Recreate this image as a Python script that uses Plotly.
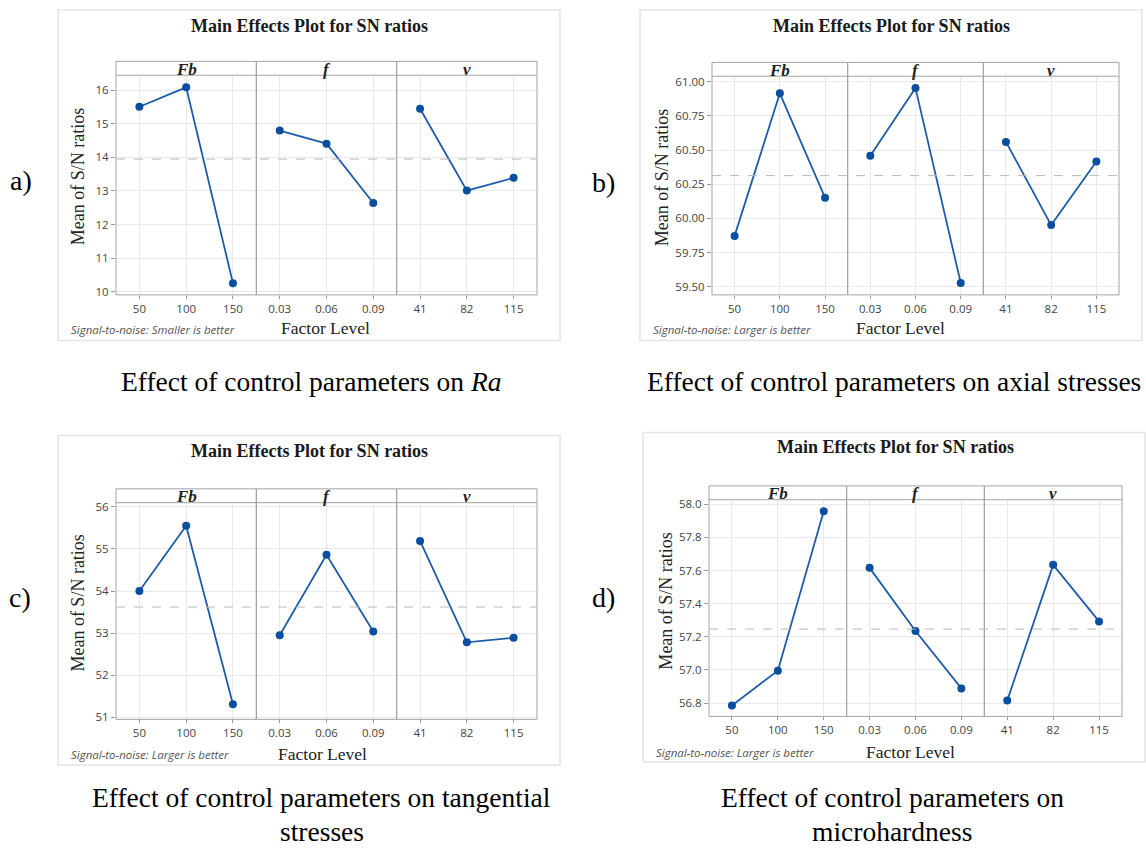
import numpy as np
import plotly.graph_objects as go

# ---------------- data ----------------
factor_names = ["Fb", "f", "v"]
fb_levels = ["50", "100", "150"]
f_levels = ["0.03", "0.06", "0.09"]
v_levels = ["41", "82", "115"]

ra_fb = [15.51, 16.09, 10.25]
ra_f = [14.80, 14.41, 12.64]
ra_v = [15.45, 13.01, 13.39]

ax_fb = [59.872, 60.916, 60.152]
ax_f = [60.459, 60.954, 59.527]
ax_v = [60.560, 59.951, 60.417]

tg_fb = [54.00, 55.55, 51.31]
tg_f = [52.95, 54.86, 53.04]
tg_v = [55.19, 52.78, 52.89]

mh_fb = [56.786, 56.996, 57.958]
mh_f = [57.616, 57.235, 56.889]
mh_v = [56.816, 57.634, 57.293]

sn_notes = ["Smaller is better", "Larger is better", "Larger is better", "Larger is better"]
panel_tags = ["a)", "b)", "c)", "d)"]
captions = [
    ["Effect of control parameters on <i>Ra</i>"],
    ["Effect of control parameters on axial stresses"],
    ["Effect of control parameters on tangential", "stresses"],
    ["Effect of control parameters on", "microhardness"],
]

levels = [fb_levels, f_levels, v_levels]
panel_data = [
    [ra_fb, ra_f, ra_v],
    [ax_fb, ax_f, ax_v],
    [tg_fb, tg_f, tg_v],
    [mh_fb, mh_f, mh_v],
]

# ---------------- layout geometry (pixels) ----------------
W, H = 1146, 853
def px(x):
    return x / W
def py(y):
    return 1 - y / H

geo = [
    dict(frame=(58, 6, 560, 340), pl=116, pr=537, st=58, sb=72, bot=294, yr=(9.90, 16.45), dtick=1, fmt="d",
         title=(309, 22), ytitle=(78, 175), sn=(69, 329), fl=(325, 327), tag=(21, 178), cap=[(311, 382)]),
    dict(frame=(640, 6, 1142, 340), pl=712, pr=1119, st=59, sb=73, bot=294, yr=(59.44, 61.041), dtick=0.25, fmt=".2f",
         title=(891, 22), ytitle=(662, 176), sn=(651, 329), fl=(900, 327), tag=(603, 180), cap=[(894, 382)]),
    dict(frame=(58, 436, 560, 769), pl=116, pr=537, st=490, sb=504, bot=723, yr=(50.95, 56.10), dtick=1, fmt="d",
         title=(309, 452), ytitle=(78, 606), sn=(69, 759), fl=(323, 758), tag=(20, 600), cap=[(321, 802), (322, 836)]),
    dict(frame=(643, 433, 1145, 766), pl=709, pr=1122, st=487, sb=501, bot=720, yr=(56.72, 58.027), dtick=0.2, fmt=".1f",
         title=(895, 448), ytitle=(666, 604), sn=(654, 756), fl=(910, 756), tag=(603, 600), cap=[(892, 802), (892, 836)]),
]

LINE = "#1f5ca8"
MARK = "#0a4f9f"
GRID = "#e9e9e9"
BORDER = "#a3a3a3"
SERIF = "Liberation Serif"
SANS = "Open Sans"

fig = go.Figure()
layout = dict(
    width=W, height=H, margin=dict(l=0, r=0, t=0, b=0),
    paper_bgcolor="white", plot_bgcolor="white", showlegend=False,
)
shapes = []
annotations = []

for p, g in enumerate(geo):
    yname = "yaxis" if p == 0 else f"yaxis{p+1}"
    yref = "y" if p == 0 else f"y{p+1}"
    fw = (g["pr"] - g["pl"]) / 3.0
    for k in range(3):
        i = p * 3 + k + 1
        xname = "xaxis" if i == 1 else f"xaxis{i}"
        xref = "x" if i == 1 else f"x{i}"
        x0 = g["pl"] + k * fw
        x1 = x0 + fw
        fig.add_trace(go.Scatter(
            x=levels[k], y=panel_data[p][k], mode="lines+markers",
            line=dict(color=LINE, width=1.8),
            marker=dict(color=MARK, size=8),
            xaxis=xref, yaxis=yref, hoverinfo="x+y",
        ))
        layout[xname] = dict(
            domain=[px(x0), px(x1)], anchor=yref, type="category",
            categoryorder="array", categoryarray=levels[k], range=[-0.5, 2.5],
            showgrid=True, gridcolor=GRID, gridwidth=1, zeroline=False, showline=False,
            ticks="outside", ticklen=3, tickcolor="#9a9a9a",
            tickfont=dict(family=SANS, size=11.5, color="#444"), fixedrange=True,
        )
        shapes.append(dict(type="rect", xref="paper", yref="paper",
                           x0=px(x0), x1=px(x1), y0=py(g["bot"]), y1=py(g["st"]),
                           line=dict(color=BORDER, width=1), fillcolor="rgba(0,0,0,0)"))
        annotations.append(dict(text=f"<b><i>{factor_names[k]}</i></b>", xref="paper", yref="paper",
                                x=px((x0 + x1) / 2), y=py((g["st"] + g["sb"]) / 2 + 1),
                                showarrow=False, xanchor="center", yanchor="middle",
                                font=dict(family=SERIF, size=17, color="#222")))
    layout[yname] = dict(
        domain=[py(g["bot"]), py(g["sb"])], anchor="x" if p == 0 else f"x{p*3+1}",
        range=list(g["yr"]), dtick=g["dtick"], tick0=0, tickformat=g["fmt"],
        showgrid=True, gridcolor=GRID, gridwidth=1, zeroline=False, showline=False,
        ticks="outside", ticklen=4, tickcolor="#9a9a9a",
        tickfont=dict(family=SANS, size=11.5, color="#444"), fixedrange=True,
    )
    shapes.append(dict(type="line", xref="paper", yref="paper",
                       x0=px(g["pl"]), x1=px(g["pr"]), y0=py(g["sb"]), y1=py(g["sb"]),
                       line=dict(color=BORDER, width=1)))
    fx0, fy0, fx1, fy1 = g["frame"]
    shapes.append(dict(type="rect", xref="paper", yref="paper",
                       x0=px(fx0), x1=px(fx1), y0=py(fy1), y1=py(fy0),
                       line=dict(color="#e3e3e3", width=1.5), fillcolor="rgba(0,0,0,0)", layer="below"))
    grand_mean = float(np.mean(panel_data[p][0]))
    shapes.append(dict(type="line", xref="paper", yref=yref,
                       x0=px(g["pl"]), x1=px(g["pr"]), y0=grand_mean, y1=grand_mean,
                       line=dict(color="#b8b8b8", width=1, dash="dash")))
    annotations.append(dict(text="<b>Main Effects Plot for SN ratios</b>", xref="paper", yref="paper",
                            x=px(g["title"][0]), y=py(g["title"][1]), showarrow=False,
                            xanchor="center", yanchor="middle",
                            font=dict(family=SERIF, size=18, color="#1a1a1a")))
    annotations.append(dict(text="Mean of S/N ratios", xref="paper", yref="paper",
                            x=px(g["ytitle"][0]), y=py(g["ytitle"][1]), showarrow=False, textangle=-90,
                            xanchor="center", yanchor="middle",
                            font=dict(family=SERIF, size=18, color="#222")))
    annotations.append(dict(text=f"<i>Signal-to-noise: {sn_notes[p]}</i>", xref="paper", yref="paper",
                            x=px(g["sn"][0]), y=py(g["sn"][1]), showarrow=False,
                            xanchor="left", yanchor="middle",
                            font=dict(family=SANS, size=11.5, color="#555")))
    annotations.append(dict(text="Factor Level", xref="paper", yref="paper",
                            x=px(g["fl"][0]), y=py(g["fl"][1]), showarrow=False,
                            xanchor="center", yanchor="middle",
                            font=dict(family=SERIF, size=17.5, color="#222")))
    annotations.append(dict(text=panel_tags[p], xref="paper", yref="paper",
                            x=px(g["tag"][0]), y=py(g["tag"][1]), showarrow=False,
                            xanchor="center", yanchor="middle",
                            font=dict(family=SERIF, size=28, color="black")))
    for line_text, (cx, cy) in zip(captions[p], g["cap"]):
        annotations.append(dict(text=line_text, xref="paper", yref="paper",
                                x=px(cx), y=py(cy), showarrow=False,
                                xanchor="center", yanchor="middle",
                                font=dict(family=SERIF, size=27.5, color="black")))

layout["shapes"] = shapes
layout["annotations"] = annotations
fig.update_layout(**layout)
fig.write_html("out.html", config={"displayModeBar": False},
               post_script="document.body.style.margin='0';document.body.style.overflow='hidden';")
